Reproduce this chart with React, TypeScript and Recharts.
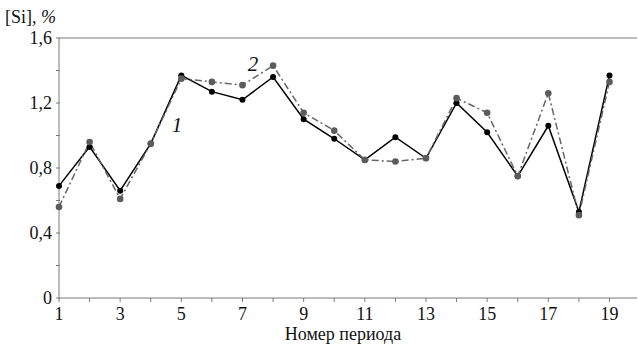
import {
  LineChart,
  Line,
  XAxis,
  YAxis,
  ReferenceLine,
  ReferenceDot,
} from 'recharts';

const periods = [1, 2, 3, 4, 5, 6, 7, 8, 9, 10, 11, 12, 13, 14, 15, 16, 17, 18, 19];
const siMeasured = [0.69, 0.93, 0.66, 0.95, 1.37, 1.27, 1.22, 1.36, 1.1, 0.98, 0.85, 0.99, 0.86, 1.2, 1.02, 0.75, 1.06, 0.53, 1.37];
const siModel = [0.56, 0.96, 0.61, 0.95, 1.35, 1.33, 1.31, 1.43, 1.14, 1.03, 0.85, 0.84, 0.86, 1.23, 1.14, 0.75, 1.26, 0.51, 1.33];
const yTicks = [0, 0.2, 0.4, 0.6, 0.8, 1, 1.2, 1.4, 1.6];

const data = periods.map((p, i) => ({ period: p, s1: siMeasured[i], s2: siModel[i] }));

const FONT = 'Times New Roman';
const AXIS = '#7a7a7a';
const txt = { fontFamily: FONT, fontSize: 18 };

function XTick(props: any) {
  const { x, y, payload } = props;
  const v = payload.value as number;
  return (
    <g>
      <line x1={x} y1={y - 8} x2={x} y2={y - 4} stroke={AXIS} strokeWidth={1} />
      {v % 2 === 1 && (
        <text x={x} y={y + 14} textAnchor="middle" fontFamily={FONT} style={txt} fill="#111">
          {v}
        </text>
      )}
    </g>
  );
}

function YTick(props: any) {
  const { x, y, payload } = props;
  const v = payload.value as number;
  const major = Math.round(v * 10) % 4 === 0;
  return (
    <g>
      <line x1={x + 5} y1={y} x2={x + 9} y2={y} stroke={AXIS} strokeWidth={1} />
      {major && (
        <text x={x + 1} y={y + 6} textAnchor="end" fontFamily={FONT} style={txt} fill="#111">
          {v === 0 ? '0' : v.toFixed(1).replace('.', ',')}
        </text>
      )}
    </g>
  );
}

export default function App() {
  return (
    <div style={{ position: 'absolute', left: 0, top: 0, width: 638, height: 345, background: '#fff', fontFamily: FONT }}>
      <svg width={638} height={345} style={{ position: 'absolute', left: 0, top: 0, pointerEvents: 'none' }}>
        <text x={5} y={23} fontFamily={FONT} style={txt} fill="#111">
          [Si], <tspan fontStyle="italic">%</tspan>
        </text>
        <text x={343} y={340} textAnchor="middle" fontFamily={FONT} style={txt} fill="#111">
          Номер периода
        </text>
      </svg>
      <LineChart
        width={638}
        height={345}
        data={data}
        margin={{ top: 38, right: 1, left: 0, bottom: 0 }}
        style={{ position: 'absolute', left: 0, top: 0 }}
      >
        <XAxis
          dataKey="period"
          type="number"
          domain={[1, 19.9]}
          ticks={periods}
          interval={0}
          height={47}
          stroke={AXIS}
          tickLine={false}
          tick={<XTick />}
        />
        <YAxis
          type="number"
          domain={[0, 1.6]}
          ticks={yTicks}
          interval={0}
          width={59}
          stroke={AXIS}
          tickLine={false}
          tick={<YTick />}
        />
        <ReferenceLine y={1.6} stroke={AXIS} strokeWidth={1} />
        <Line
          dataKey="s1"
          stroke="#000"
          strokeWidth={1.5}
          dot={{ r: 3, fill: '#000', stroke: '#000', strokeWidth: 0 }}
          isAnimationActive={false}
        />
        <Line
          dataKey="s2"
          stroke="#666"
          strokeWidth={1.5}
          strokeDasharray="7 3 2 3"
          dot={{ r: 3.3, fill: '#5c5c5c', stroke: '#5c5c5c', strokeWidth: 0 }}
          isAnimationActive={false}
        />
        <ReferenceDot
          x={4.86}
          y={1.065}
          r={0}
          label={{ value: '1', position: 'center', style: { fontFamily: FONT, fontSize: 21, fontStyle: 'italic' }, fill: '#111' }}
        />
        <ReferenceDot
          x={7.34}
          y={1.44}
          r={0}
          label={{ value: '2', position: 'center', style: { fontFamily: FONT, fontSize: 21, fontStyle: 'italic' }, fill: '#111' }}
        />
      </LineChart>
    </div>
  );
}
